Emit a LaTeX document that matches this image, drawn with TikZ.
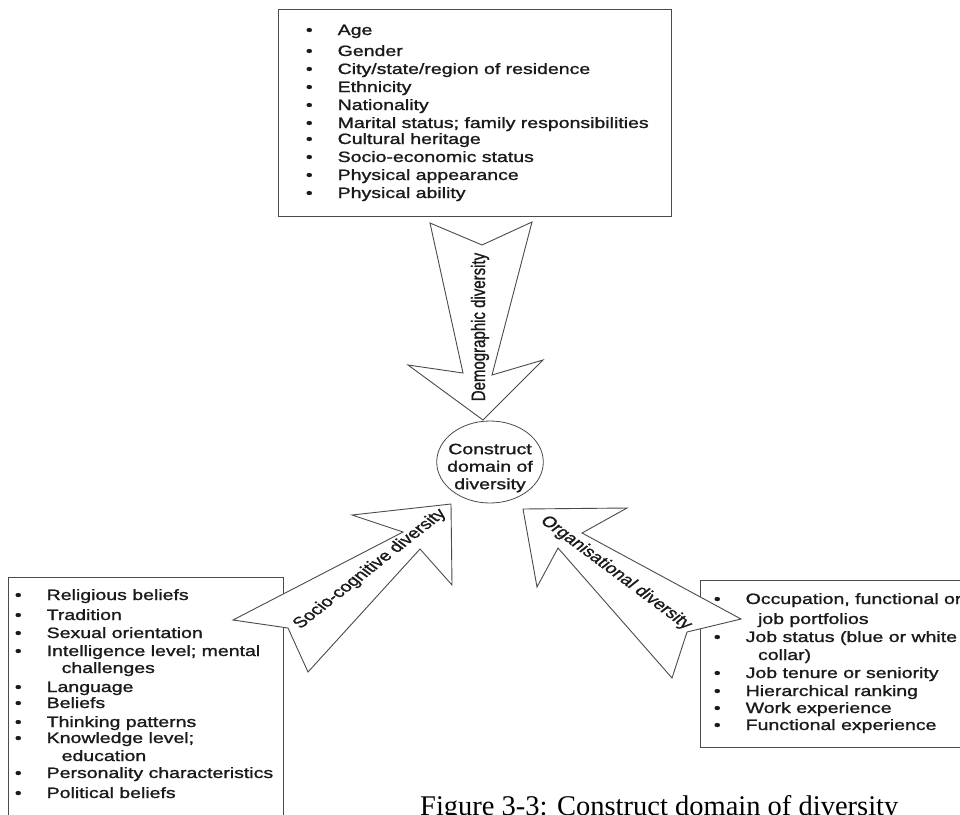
\documentclass[tikz,border=0pt]{standalone}
\usepackage{fontspec}
\setmainfont{Liberation Sans}
\newfontfamily\boxfont[FakeBold=1.1]{Liberation Sans}
\newfontfamily\capfont{Liberation Serif}
\definecolor{ink}{HTML}{1A1A1A}
\definecolor{edge}{HTML}{4A4A4A}
\tikzset{
  frame/.style={draw=edge, line width=0.9pt, inner sep=0pt, anchor=north west},
  bigarrow/.style={draw=edge, line width=0.9pt, fill=white, line join=miter},
  item/.style={inner sep=0pt, anchor=base west, text=ink, font=\boxfont\fontsize{15}{18}\selectfont},
  tag/.style={inner sep=0pt, text=ink, font=\boxfont\fontsize{15}{17.5}\selectfont},
  core/.style={circle, draw=edge, line width=0.8pt, minimum size=82pt, inner sep=0pt},
}
\newcommand{\bul}{\makebox[24.5pt][l]{•}}
\newcommand{\indA}{\makebox[34pt][l]{}}
\newcommand{\indB}{\makebox[36pt][l]{}}
\begin{document}
\begin{tikzpicture}[x=1pt,y=-1pt]
\useasboundingbox (0,0) rectangle (960,814);
\clip (0,0) rectangle (960,814);
\fill[white] (0,0) rectangle (960,814);

% boxes
\node[frame, minimum width=393pt, minimum height=207pt] (demobox) at (278,9) {};
\node[frame, minimum width=275pt, minimum height=260pt] (sociobox) at (8,577) {};
\node[frame, minimum width=300pt, minimum height=167pt] (orgbox) at (700,580) {};

% block arrows
\draw[bigarrow] (430,223) -- (482,245) -- (532,222) -- (492,375) -- (543,360)
  -- (483,420) -- (408,365) -- (463,373) -- cycle;
\draw[bigarrow] (451,504) -- (352,515) -- (403,532) -- (233,620) -- (288,628)
  -- (308,672) -- (420,549) -- (452,585) -- cycle;
\draw[bigarrow] (523,509) -- (627,508) -- (582,533) -- (741,619) -- (687,632)
  -- (672,678) -- (558,548) -- (537,587) -- cycle;

\begin{scope}[x=0.769231pt, xscale=1.3, transform shape]
  \node[core] (core) at (490,462) {};
  \node[tag, align=center] (coretext) at (490,468) {Construct\\domain of\\diversity};

  \node[tag, rotate=90] (demolabel) at (480,327) {Demographic diversity};
  \node[tag, rotate=45.6] (sociolabel) at (370,569) {Socio-cognitive diversity};
  \node[tag, rotate=-44] (orglabel) at (616,573) {Organisational diversity};

  \foreach \n/\yy/\tx in {1/35/Age, 2/56/Gender, 3/74/{City/state/region of residence},
      4/92/Ethnicity, 5/110/Nationality, 6/128/{Marital status; family responsibilities},
      7/144/Cultural heritage, 8/162/Socio-economic status, 9/180/Physical appearance,
      10/198/Physical ability}
    \node[item] (demo\n) at (305.6,\yy) {\bul\tx};

  \foreach \n/\yy/\tx in {1/600/Religious beliefs, 2/620/Tradition, 3/638/Sexual orientation,
      4/656/{Intelligence level; mental}, 6/692/Language, 7/708/Beliefs,
      8/727/Thinking patterns, 9/743/{Knowledge level;}, 11/778/Personality characteristics,
      12/798/Political beliefs}
    \node[item] (socio\n) at (14.6,\yy) {\bul\tx};
  \node[item] (socio5) at (14.6,673) {\indB challenges};
  \node[item] (socio10) at (14.6,761) {\indB education};

  \foreach \n/\yy/\tx in {1/604/{Occupation, functional or}, 3/642/{Job status (blue or white},
      5/678/Job tenure or seniority, 6/696/Hierarchical ranking, 7/713/Work experience,
      8/730/Functional experience}
    \node[item] (org\n) at (713.6,\yy) {\bul\tx};
  \node[item] (org2) at (713.6,624) {\indA job portfolios};
  \node[item] (org4) at (713.6,660) {\indA collar)};
\end{scope}

\node[inner sep=0pt, anchor=base west, text=black, font=\capfont\fontsize{28.5}{30}\selectfont]
  (caption) at (420,815) {Figure 3-3: Construct domain of diversity};
\end{tikzpicture}
\end{document}
